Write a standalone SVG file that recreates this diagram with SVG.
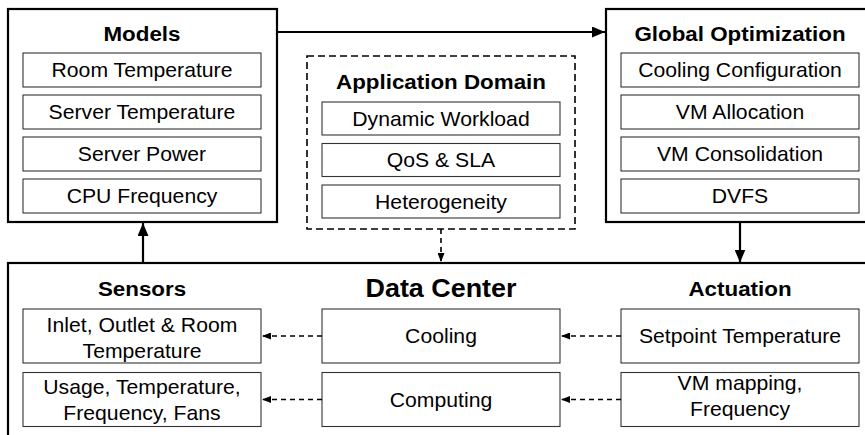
<svg xmlns="http://www.w3.org/2000/svg" width="865" height="435" viewBox="0 0 865 435">
  <defs>
    <marker id="head" markerUnits="userSpaceOnUse" markerWidth="13" markerHeight="11" refX="13" refY="5.5" orient="auto">
      <path d="M0,0 L13,5.5 L0,11 z" fill="#000"/>
    </marker>
    <marker id="headSmall" markerUnits="userSpaceOnUse" markerWidth="9" markerHeight="7" refX="9" refY="3.5" orient="auto">
      <path d="M0,0 L9,3.5 L0,7 z" fill="#000"/>
    </marker>
    <style>
      .frame { fill: #fff; stroke: #000; stroke-width: 2.2; }
      .dashframe { fill: #fff; stroke: #000; stroke-width: 1.6; stroke-dasharray: 7 4; }
      .item { fill: #fff; stroke: #333; stroke-width: 1.1; }
      text { font-family: "Liberation Sans", Arial, sans-serif; fill: #000; text-anchor: middle; }
      .title { font-size: 21px; font-weight: bold; }
      .big { font-size: 25.5px; font-weight: bold; }
      .label { font-size: 20px; }
      .solid { fill: none; stroke: #000; stroke-width: 2.2; }
      .dashed { fill: none; stroke: #000; stroke-width: 1.6; stroke-dasharray: 5 4; }
    </style>
  </defs>

  <!-- Data center frame (runs past the right and bottom edges) -->
  <g id="data-center">
    <rect class="frame" x="8" y="263" width="900" height="220"/>
    <text class="big" transform="translate(441 297) scale(1.055 1)">Data Center</text>
    <rect class="item" x="322" y="309" width="238" height="54"/>
    <text class="label" transform="translate(441 343) scale(1.06 1)">Cooling</text>
    <rect class="item" x="322" y="372.5" width="238" height="54"/>
    <text class="label" transform="translate(441 406.5) scale(1.06 1)">Computing</text>
  </g>

  <g id="sensors">
    <text class="title" transform="translate(142 296) scale(1.065 1)">Sensors</text>
    <rect class="item" x="23" y="309" width="238" height="54"/>
    <text class="label" transform="translate(142 331.5) scale(1.06 1)">Inlet, Outlet &amp; Room</text>
    <text class="label" transform="translate(142 357.5) scale(1.06 1)">Temperature</text>
    <rect class="item" x="23" y="372.5" width="238" height="54"/>
    <text class="label" transform="translate(142 393.5) scale(1.06 1)">Usage, Temperature,</text>
    <text class="label" transform="translate(142 419.5) scale(1.06 1)">Frequency, Fans</text>
  </g>

  <g id="actuation">
    <text class="title" transform="translate(740 296) scale(1.065 1)">Actuation</text>
    <rect class="item" x="621" y="309" width="238" height="54"/>
    <text class="label" transform="translate(740 343) scale(1.06 1)">Setpoint Temperature</text>
    <rect class="item" x="621" y="372.5" width="238" height="54"/>
    <text class="label" transform="translate(740 390) scale(1.06 1)">VM mapping,</text>
    <text class="label" transform="translate(740 416) scale(1.06 1)">Frequency</text>
  </g>

  <g id="models">
    <rect class="frame" x="8" y="9" width="269" height="213"/>
    <text class="title" transform="translate(142 40.5) scale(1.065 1)">Models</text>
    <rect class="item" x="23" y="53" width="238" height="34"/>
    <text class="label" transform="translate(142 77) scale(1.06 1)">Room Temperature</text>
    <rect class="item" x="23" y="95" width="238" height="34"/>
    <text class="label" transform="translate(142 119) scale(1.06 1)">Server Temperature</text>
    <rect class="item" x="23" y="137" width="238" height="34"/>
    <text class="label" transform="translate(142 161) scale(1.06 1)">Server Power</text>
    <rect class="item" x="23" y="179" width="238" height="34"/>
    <text class="label" transform="translate(142 203) scale(1.06 1)">CPU Frequency</text>
  </g>

  <g id="application-domain">
    <rect class="dashframe" x="307" y="56" width="268" height="173"/>
    <text class="title" transform="translate(441 89) scale(1.065 1)">Application Domain</text>
    <rect class="item" x="322" y="102" width="238" height="33"/>
    <text class="label" transform="translate(441 125.5) scale(1.06 1)">Dynamic Workload</text>
    <rect class="item" x="322" y="143.5" width="238" height="33"/>
    <text class="label" transform="translate(441 167) scale(1.06 1)">QoS &amp; SLA</text>
    <rect class="item" x="322" y="185" width="238" height="33"/>
    <text class="label" transform="translate(441 208.5) scale(1.06 1)">Heterogeneity</text>
  </g>

  <!-- Optimization frame (runs past the right edge) -->
  <g id="global-optimization">
    <rect class="frame" x="606" y="9" width="300" height="213"/>
    <text class="title" transform="translate(740 40.5) scale(1.065 1)">Global Optimization</text>
    <rect class="item" x="621" y="53" width="238" height="34"/>
    <text class="label" transform="translate(740 77) scale(1.06 1)">Cooling Configuration</text>
    <rect class="item" x="621" y="95" width="238" height="34"/>
    <text class="label" transform="translate(740 119) scale(1.06 1)">VM Allocation</text>
    <rect class="item" x="621" y="137" width="238" height="34"/>
    <text class="label" transform="translate(740 161) scale(1.06 1)">VM Consolidation</text>
    <rect class="item" x="621" y="179" width="238" height="34"/>
    <text class="label" transform="translate(740 203) scale(1.06 1)">DVFS</text>
  </g>

  <g id="connectors">
    <line class="solid" x1="277" y1="32" x2="605" y2="32" marker-end="url(#head)"/>
    <line class="solid" x1="740" y1="222" x2="740" y2="262.5" marker-end="url(#head)"/>
    <line class="solid" x1="143" y1="263" x2="143" y2="223" marker-end="url(#head)"/>
    <line class="dashed" x1="441" y1="229" x2="441" y2="262" marker-end="url(#headSmall)"/>
    <line class="dashed" x1="322" y1="336" x2="262" y2="336" marker-end="url(#headSmall)"/>
    <line class="dashed" x1="322" y1="399.5" x2="262" y2="399.5" marker-end="url(#headSmall)"/>
    <line class="dashed" x1="621" y1="336" x2="561" y2="336" marker-end="url(#headSmall)"/>
    <line class="dashed" x1="621" y1="399.5" x2="561" y2="399.5" marker-end="url(#headSmall)"/>
  </g>
</svg>
